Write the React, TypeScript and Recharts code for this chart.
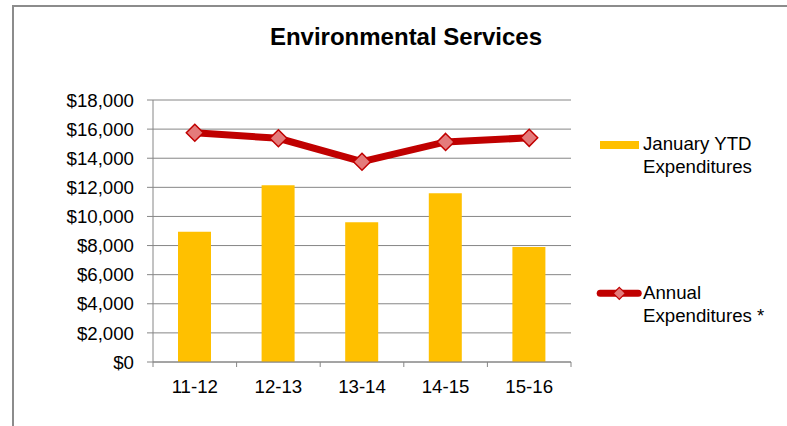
import React from 'react';
import { ComposedChart, Bar, Line, XAxis, YAxis, CartesianGrid } from 'recharts';

const categories = ['11-12', '12-13', '13-14', '14-15', '15-16'];
const ytdExpenditures = [8950, 12150, 9600, 11600, 7900];
const annualExpenditures = [15750, 15370, 13760, 15120, 15400];
const yTicks = [0, 2000, 4000, 6000, 8000, 10000, 12000, 14000, 16000, 18000];
const titleText = 'Environmental Services';
const ytdLegend = ['January YTD', 'Expenditures'];
const annualLegend = ['Annual', 'Expenditures *'];

const data = categories.map((c, i) => ({
  period: c,
  ytd: ytdExpenditures[i],
  annual: annualExpenditures[i],
}));

const FONT = '"Liberation Sans", Arial, Helvetica, sans-serif';
const AXIS = '#868686';
const BAR = '#FFC000';
const LINE = '#C00000';
const DOT_FILL = '#E47B7B';
const TEXT = '#000000';
const FS = 18.67;

const Diamond = (props: any) => {
  const { cx, cy } = props;
  if (cx == null || cy == null) return null;
  const r = 8.5;
  return (
    <polygon
      points={`${cx},${cy - r} ${cx + r},${cy} ${cx},${cy + r} ${cx - r},${cy}`}
      fill={DOT_FILL}
      stroke={LINE}
      strokeWidth={1.5}
    />
  );
};

const XTick = (props: any) => {
  const { x, y, payload, index, width, visibleTicksCount } = props;
  const band = width / visibleTicksCount;
  return (
    <g>
      <line x1={x - band / 2} x2={x - band / 2} y1={y} y2={y + 5} stroke={AXIS} strokeWidth={1} />
      {index === visibleTicksCount - 1 && (
        <line x1={x + band / 2} x2={x + band / 2} y1={y} y2={y + 5} stroke={AXIS} strokeWidth={1} />
      )}
      <text x={x} y={y + 30.7} textAnchor="middle" fill={TEXT} fontSize={FS} fontFamily={FONT}>
        {payload.value}
      </text>
    </g>
  );
};

const legendText: React.CSSProperties = {
  position: 'absolute',
  left: 643,
  fontFamily: FONT,
  fontSize: FS,
  lineHeight: '22.5px',
  color: TEXT,
  whiteSpace: 'nowrap',
};

export default function App() {
  return (
    <div
      style={{
        position: 'absolute',
        left: 0,
        top: 0,
        width: 787,
        height: 426,
        overflow: 'hidden',
        background: '#fff',
      }}
    >
      <div
        style={{
          position: 'absolute',
          left: 12,
          top: 5,
          width: 800,
          height: 450,
          border: '2px solid #8c8c8c',
          boxSizing: 'border-box',
        }}
      />
      <div
        style={{
          position: 'absolute',
          left: 406,
          top: 25,
          transform: 'translateX(-50%)',
          fontFamily: FONT,
          fontWeight: 'bold',
          fontSize: 24,
          lineHeight: '24px',
          color: TEXT,
          whiteSpace: 'nowrap',
        }}
      >
        {titleText}
      </div>
      <div style={{ position: 'absolute', left: 0, top: 0 }}>
        <ComposedChart
          width={787}
          height={426}
          data={data}
          margin={{ top: 100, right: 216, bottom: 0, left: 0 }}
        >
          <CartesianGrid vertical={false} stroke={AXIS} strokeWidth={1} />
          <XAxis
            dataKey="period"
            height={64}
            interval={0}
            axisLine={{ stroke: AXIS, strokeWidth: 1 }}
            tickLine={false}
            tickSize={0}
            tickMargin={0}
            tick={<XTick />}
          />
          <YAxis
            width={153}
            domain={[0, 18000]}
            ticks={yTicks}
            interval={0}
            axisLine={{ stroke: AXIS, strokeWidth: 1 }}
            tickLine={{ stroke: AXIS, strokeWidth: 1 }}
            tickSize={6}
            tickMargin={13}
            tick={{ fill: TEXT, fontSize: FS, fontFamily: FONT }}
            tickFormatter={(v: number) => `$${v.toLocaleString('en-US')}`}
          />
          <Bar dataKey="ytd" fill={BAR} barSize={33} isAnimationActive={false} />
          <Line
            type="linear"
            dataKey="annual"
            stroke={LINE}
            strokeWidth={7}
            dot={(p: any) => <Diamond key={`d-${p.index}`} {...p} />}
            activeDot={false}
            isAnimationActive={false}
          />
        </ComposedChart>
      </div>
      {/* Legend */}
      <div
        style={{ position: 'absolute', left: 600, top: 141, width: 39, height: 8, background: BAR }}
      />
      <div style={{ ...legendText, top: 133 }}>
        {ytdLegend[0]}
        <br />
        {ytdLegend[1]}
      </div>
      <svg
        style={{ position: 'absolute', left: 590, top: 280 }}
        width={56}
        height={28}
      >
        <line x1={10.2} x2={48.2} y1={13.3} y2={13.3} stroke={LINE} strokeWidth={7} strokeLinecap="round" />
        <polygon
          points={`${29.3},${13.3 - 6} ${29.3 + 6},${13.3} ${29.3},${13.3 + 6} ${29.3 - 6},${13.3}`}
          fill={DOT_FILL}
          stroke={LINE}
          strokeWidth={1.2}
        />
      </svg>
      <div style={{ ...legendText, top: 282 }}>
        {annualLegend[0]}
        <br />
        {annualLegend[1]}
      </div>
    </div>
  );
}
